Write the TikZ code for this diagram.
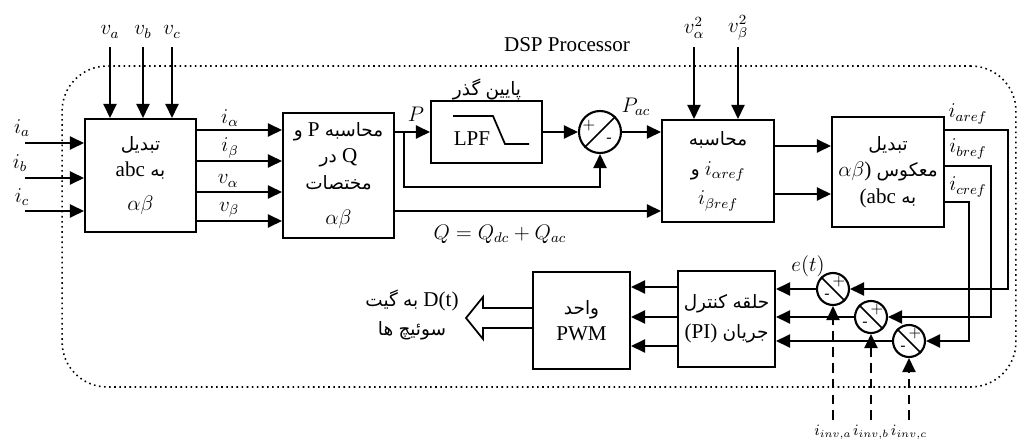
\documentclass[tikz,border=0pt]{standalone}
\usepackage{fontspec}
\setmainfont{Liberation Serif}
\newfontfamily\arabicfont[Script=Arabic]{DejaVu Sans}
\usetikzlibrary{arrows.meta}
% persische Woerter einzeln, Zeilen in Leserichtung von links gesetzt
\newcommand{\fa}[1]{\mbox{\arabicfont\fontsize{10.5}{15}\selectfont #1}}

\tikzset{
    block/.style={draw, line width=1.2pt, align=center, minimum width=2.22cm, inner sep=2pt, font=\fontsize{12}{15}\selectfont},
    summe/.style={draw, circle, line width=1.2pt, minimum size=0.84cm, inner sep=0pt},
    summek/.style={summe, minimum size=0.64cm},
    pfeil/.style={-{Triangle[length=8pt,width=7.5pt]}, line width=1pt},
    linie/.style={line width=1pt},
    lbl/.style={inner sep=1pt, font=\fontsize{12}{14}\selectfont},
    klbl/.style={inner sep=0pt, font=\fontsize{9}{11}\selectfont},
    vz/.style={inner sep=0pt, font=\fontsize{9}{9}\selectfont},
}

\begin{document}
\begin{tikzpicture}[x=0.02cm, y=-0.02cm]
    \useasboundingbox (0,0) rectangle (1018,446);

    % Rahmen.
    \node[draw, dotted, line width=0.9pt, rounded corners=0.9cm, minimum width=19.08cm, minimum height=6.42cm] (dsp) at (539,226.5) {};
    \node[lbl] (dsptext) at (567,45) {DSP Processor};

    % Bloecke.
    \node[block, minimum height=2.26cm] (abc) at (140.5,175.5) {\fa{تبدیل}\\ abc \fa{به}\\[4pt] $\alpha\beta$};
    \node[block, minimum height=2.5cm] (pq) at (338.5,175.5) {\fa{و} P \fa{محاسبه}\\ \fa{در} Q\\ \fa{مختصات}\\[5pt] $\alpha\beta$};
    \node[block, minimum height=1.24cm] (lpf) at (486.5,132) {};
    \node[block, minimum width=2.24cm, minimum height=2.04cm] (iref) at (718,171) {\fa{محاسبه}\\[2pt] \fa{و} $i_{\alpha ref}$\\[2pt] $i_{\beta ref}$};
    \node[block, minimum width=2.24cm, minimum height=2.2cm] (inv) at (888,172) {\fa{تبدیل}\\ $\alpha\beta$) \fa{معکوس}\\ (abc \fa{به}};
    \node[block, minimum width=1.94cm, minimum height=1.92cm] (pi) at (726.5,319) {\fa{کنترل} \fa{حلقه}\\[2pt] (PI) \fa{جریان}};
    \node[block, minimum width=1.94cm, minimum height=1.94cm] (pwm) at (581.5,320.5) {\fa{واحد}\\ PWM};

    % Tiefpass.
    \node[lbl] (lpftext) at ([shift={(-14.5,7)}]lpf.center) {LPF};
    \node[lbl] (lpfname) at (487,89) {\fa{گذر} \fa{پایین}};
    \draw[linie, shift={(lpf.center)}] (-33.5,-16) -- (6.5,-16) -- (18.5,12) -- (42.5,12);

    % Summierer.
    \node[summe] (sp) at (600,132) {};
    \draw[linie] (sp.south west) -- (sp.north east);
    \node[vz] at ([shift={(-11,-6)}]sp.center) {$+$};
    \node[vz] at ([shift={(9,8)}]sp.center) {-};
    \foreach \n/\x/\y in {c1/833/289, c2/871/317, c3/909/341}
    {
        \node[summek] (\n) at (\x,\y) {};
        \draw[linie] (\n.north west) -- (\n.south east);
        \node[vz] at ([shift={(6,-7)}]\n.center) {$+$};
        \node[vz] at ([shift={(-6,7)}]\n.center) {-};
    }

    % Eingaenge abc.
    \foreach \y/\n in {143/a, 178/b, 211/c}
    {
        \coordinate (i\n) at (25,\y);
        \draw[pfeil] (i\n) -- (i\n -| abc.west);
    }
    \node[lbl] (lia) at (22,128) {$i_a$};
    \node[lbl] (lib) at (20,163) {$i_b$};
    \node[lbl] (lic) at (22,197) {$i_c$};
    \foreach \x/\n in {110/a, 143/b, 172/c}
    {
        \coordinate (v\n) at (\x,47);
        \draw[pfeil] (v\n) -- (v\n |- abc.north);
        \node[lbl] (lv\n) at (\x,32) {$v_\n$};
    }

    % abc nach PQ.
    \foreach \y in {130,161,192,221}
    {
        \draw[pfeil] (abc.east |- 0,\y) -- (pq.west |- 0,\y);
    }
    \node[lbl] (lialpha) at (230,118) {$i_\alpha$};
    \node[lbl] (libeta) at (230,148) {$i_\beta$};
    \node[lbl] (lvalpha) at (228,181) {$v_\alpha$};
    \node[lbl] (lvbeta) at (229,210) {$v_\beta$};

    % P und Q.
    \draw[pfeil] (pq.east |- lpf) -- (lpf.west);
    \coordinate (pz) at (404,132);
    \coordinate (pu) at (404,187);
    \draw[pfeil] (pz) -- (pu) -| (sp.south);
    \draw[pfeil] (lpf.east) -- (sp.west);
    \draw[pfeil] (sp.east) -- (sp.east -| iref.west);
    \draw[pfeil] (pq.east |- 0,211) -- (iref.west |- 0,211);
    \node[lbl] (lp) at (416,114) {$P$};
    \node[lbl] (lpac) at (636,107) {$P_{ac}$};
    \node[lbl] (lq) at (500,234) {$Q=Q_{dc}+Q_{ac}$};

    % Referenzstroeme.
    \coordinate (vqa) at (694,47);
    \coordinate (vqb) at (738,47);
    \draw[pfeil] (vqa) -- (vqa |- iref.north);
    \draw[pfeil] (vqb) -- (vqb |- iref.north);
    \node[lbl] (lvqa) at (694,28) {$v_{\alpha}^2$};
    \node[lbl] (lvqb) at (738,28) {$v_{\beta}^2$};
    \draw[pfeil] (iref.east |- 0,146) -- (inv.west |- 0,146);
    \draw[pfeil] (iref.east |- 0,194) -- (inv.west |- 0,194);
    \draw[pfeil] (inv.east |- 0,130) -- ++(63,0) |- (c1.east);
    \draw[pfeil] (inv.east |- 0,166) -- ++(46,0) |- (c2.east);
    \draw[pfeil] (inv.east |- 0,202) -- ++(24,0) |- (c3.east);
    \node[lbl] (liaref) at (968,114) {$i_{aref}$};
    \node[lbl] (libref) at (968,149) {$i_{bref}$};
    \node[lbl] (licref) at (968,187) {$i_{cref}$};

    % Regelung.
    \foreach \n/\m in {c1/a, c2/b, c3/c}
    {
        \draw[pfeil] (\n.west) -- (\n.west -| pi.east);
        \coordinate (m\m) at (\n.south |- 0,420);
        \draw[pfeil, dash pattern=on 5.5pt off 3.5pt] (m\m) -- (\n.south);
        \node[klbl] at ([yshift=-0.25cm]m\m) {$i_{inv,\m}$};
    }
    \node[lbl] (le) at (808,266) {$e(t)$};
    \foreach \y in {287,317,346}
    {
        \draw[pfeil] (pi.west |- 0,\y) -- (pwm.east |- 0,\y);
    }

    % Ausgang.
    \coordinate (dspitze) at (466,318);
    \draw[linie] (pwm.west |- 0,308) -- (483,308) -- (483,297) -- (dspitze) -- (483,339) -- (483,328) -- (pwm.west |- 0,328);
    \node[lbl, align=center, font=\fontsize{12}{17}\selectfont] (gate) at (412,315) {\fa{گیت} \fa{به} D(t)\\ \fa{ها} \fa{سوئیچ}};
\end{tikzpicture}
\end{document}
